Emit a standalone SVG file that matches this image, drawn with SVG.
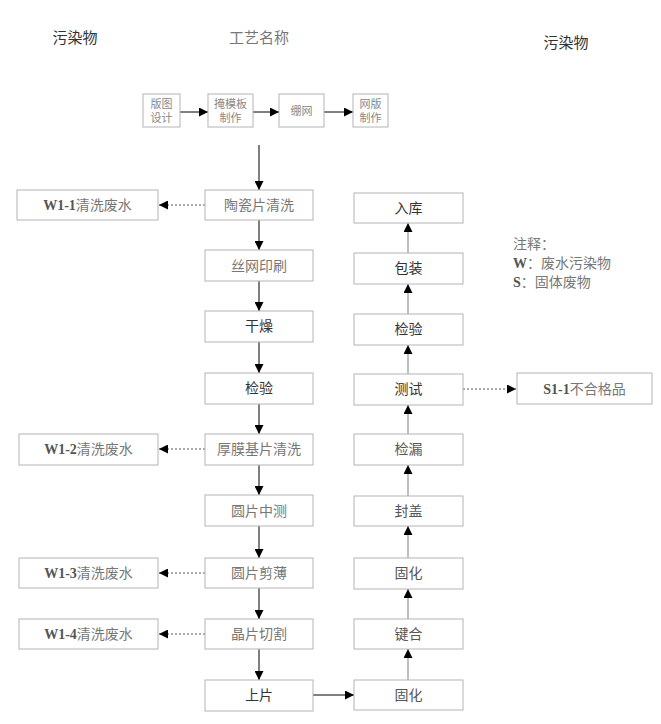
<svg xmlns="http://www.w3.org/2000/svg" width="661" height="724" viewBox="0 0 661 724">
<style>
text{font-family:"Liberation Serif","Noto Sans CJK SC",serif;text-anchor:middle;dominant-baseline:central}
.box{fill:#fff;stroke:#b4b4b4;stroke-width:1}
.t{font-size:14px;fill:#333}
.f{font-size:14px;fill:#777}
.s{font-size:11px;fill:#888}
.h{font-size:15px;fill:#333}
.n{font-size:14px;fill:#777;text-anchor:start;dominant-baseline:auto}
.b{font-weight:bold;fill:#555}
.ln{stroke:#000;stroke-width:1;fill:none}
.lg{stroke:#aaa;stroke-width:1.5;fill:none}
.dt{stroke:#555;stroke-width:1;stroke-dasharray:2,2;fill:none}
</style>
<defs>
<marker id="ah" viewBox="0 0 10 10" refX="10" refY="5" markerWidth="9" markerHeight="9" orient="auto" markerUnits="userSpaceOnUse"><path d="M0,0 L10,5 L0,10 z" fill="#000"/></marker>
</defs>
<g id="headers">
<text class="h" x="75" y="38">污染物</text>
<text class="h" x="259" y="38" style="fill:#777">工艺名称</text>
<text class="h" x="566" y="43">污染物</text>
</g>
<g id="notes">
<text class="n" x="513" y="249">注释：</text>
<text class="n" x="513" y="268"><tspan class="b">W</tspan>：废水污染物</text>
<text class="n" x="513" y="287"><tspan class="b">S</tspan>：固体废物</text>
</g>
<g id="connectors">
<line class="ln" x1="180" y1="112" x2="208" y2="112" marker-end="url(#ah)"/>
<line class="ln" x1="253" y1="112" x2="279" y2="112" marker-end="url(#ah)"/>
<line class="ln" x1="324" y1="112" x2="353" y2="112" marker-end="url(#ah)"/>
<line class="ln" x1="259" y1="145" x2="259" y2="190" marker-end="url(#ah)"/>
<line class="ln" x1="259" y1="220" x2="259" y2="250" marker-end="url(#ah)"/>
<line class="ln" x1="259" y1="281" x2="259" y2="311" marker-end="url(#ah)"/>
<line class="ln" x1="259" y1="342" x2="259" y2="373" marker-end="url(#ah)"/>
<line class="ln" x1="259" y1="404" x2="259" y2="434" marker-end="url(#ah)"/>
<line class="ln" x1="259" y1="465" x2="259" y2="495" marker-end="url(#ah)"/>
<line class="ln" x1="259" y1="526" x2="259" y2="558" marker-end="url(#ah)"/>
<line class="ln" x1="259" y1="588" x2="259" y2="619" marker-end="url(#ah)"/>
<line class="ln" x1="259" y1="649" x2="259" y2="680" marker-end="url(#ah)"/>
<line class="ln" x1="313" y1="695" x2="354" y2="695" marker-end="url(#ah)"/>
<line class="lg" x1="408" y1="680" x2="408" y2="649" marker-end="url(#ah)"/>
<line class="lg" x1="408" y1="619" x2="408" y2="589" marker-end="url(#ah)"/>
<line class="lg" x1="408" y1="558" x2="408" y2="526" marker-end="url(#ah)"/>
<line class="lg" x1="408" y1="496" x2="408" y2="465" marker-end="url(#ah)"/>
<line class="lg" x1="408" y1="434" x2="408" y2="405" marker-end="url(#ah)"/>
<line class="lg" x1="408" y1="374" x2="408" y2="345" marker-end="url(#ah)"/>
<line class="lg" x1="408" y1="314" x2="408" y2="284" marker-end="url(#ah)"/>
<line class="lg" x1="408" y1="253" x2="408" y2="223" marker-end="url(#ah)"/>
<line class="dt" x1="205" y1="205" x2="159" y2="205" marker-end="url(#ah)"/>
<line class="dt" x1="205" y1="449" x2="159" y2="449" marker-end="url(#ah)"/>
<line class="dt" x1="205" y1="573" x2="159" y2="573" marker-end="url(#ah)"/>
<line class="dt" x1="205" y1="634" x2="159" y2="634" marker-end="url(#ah)"/>
<line class="dt" x1="463" y1="389" x2="516" y2="389" marker-end="url(#ah)"/>
</g>
<g id="n-bantu"><rect class="box" x="143" y="94" width="37" height="33"/><text class="s" x="161.5" y="104">版图</text><text class="s" x="161.5" y="118">设计</text></g>
<g id="n-yanmo"><rect class="box" x="208" y="94" width="45" height="33"/><text class="s" x="230.5" y="104">掩模板</text><text class="s" x="230.5" y="118">制作</text></g>
<g id="n-bengwang"><rect class="box" x="279" y="94" width="45" height="33"/><text class="s" x="301.5" y="111">绷网</text></g>
<g id="n-wangban"><rect class="box" x="353" y="94" width="35" height="33"/><text class="s" x="370.5" y="104">网版</text><text class="s" x="370.5" y="118">制作</text></g>
<g id="n-m1"><rect class="box" x="205" y="190" width="108" height="30"/><text class="f" x="259" y="205">陶瓷片清洗</text></g>
<g id="n-m2"><rect class="box" x="205" y="250" width="108" height="31"/><text class="f" x="259" y="266">丝网印刷</text></g>
<g id="n-m3"><rect class="box" x="205" y="311" width="108" height="31"/><text class="t" x="259" y="326">干燥</text></g>
<g id="n-m4"><rect class="box" x="205" y="373" width="108" height="31"/><text class="t" x="259" y="388">检验</text></g>
<g id="n-m5"><rect class="box" x="205" y="434" width="108" height="31"/><text class="f" x="259" y="449">厚膜基片清洗</text></g>
<g id="n-m6"><rect class="box" x="205" y="495" width="108" height="31"/><text class="f" x="259" y="511">圆片中测</text></g>
<g id="n-m7"><rect class="box" x="205" y="558" width="108" height="30"/><text class="f" x="259" y="573">圆片剪薄</text></g>
<g id="n-m8"><rect class="box" x="205" y="619" width="108" height="30"/><text class="f" x="259" y="634">晶片切割</text></g>
<g id="n-m9"><rect class="box" x="205" y="680" width="108" height="31"/><text class="t" x="259" y="695">上片</text></g>
<g id="n-r1"><rect class="box" x="354" y="193" width="109" height="30"/><text class="t" x="408.5" y="208">入库</text></g>
<g id="n-r2"><rect class="box" x="354" y="253" width="109" height="31"/><text class="t" x="408.5" y="268">包装</text></g>
<g id="n-r3"><rect class="box" x="354" y="314" width="109" height="31"/><text class="t" x="408.5" y="329">检验</text></g>
<g id="n-r4"><rect class="box" x="354" y="374" width="109" height="31"/><text class="t" x="408.5" y="389">测试</text></g>
<g id="n-r5"><rect class="box" x="354" y="434" width="109" height="31"/><text class="t" x="408.5" y="449" style="fill:#555">检漏</text></g>
<g id="n-r6"><rect class="box" x="354" y="496" width="109" height="30"/><text class="t" x="408.5" y="511" style="fill:#555">封盖</text></g>
<g id="n-r7"><rect class="box" x="354" y="558" width="109" height="31"/><text class="t" x="408.5" y="573" style="fill:#555">固化</text></g>
<g id="n-r8"><rect class="box" x="354" y="619" width="109" height="30"/><text class="t" x="408.5" y="634" style="fill:#555">键合</text></g>
<g id="n-r9"><rect class="box" x="354" y="680" width="109" height="30"/><text class="t" x="408.5" y="695" style="fill:#555">固化</text></g>
<g id="n-w1"><rect class="box" x="17" y="190" width="141" height="30"/><text class="f" x="87.5" y="205"><tspan class="b">W1-1</tspan>清洗废水</text></g>
<g id="n-w2"><rect class="box" x="19" y="434" width="139" height="31"/><text class="f" x="88.5" y="449"><tspan class="b">W1-2</tspan>清洗废水</text></g>
<g id="n-w3"><rect class="box" x="19" y="558" width="139" height="30"/><text class="f" x="88.5" y="573"><tspan class="b">W1-3</tspan>清洗废水</text></g>
<g id="n-w4"><rect class="box" x="19" y="619" width="139" height="30"/><text class="f" x="88.5" y="634"><tspan class="b">W1-4</tspan>清洗废水</text></g>
<g id="n-s1"><rect class="box" x="517" y="373" width="135" height="31"/><text class="f" x="584.5" y="389"><tspan class="b">S1-1</tspan>不合格品</text></g>
</svg>
